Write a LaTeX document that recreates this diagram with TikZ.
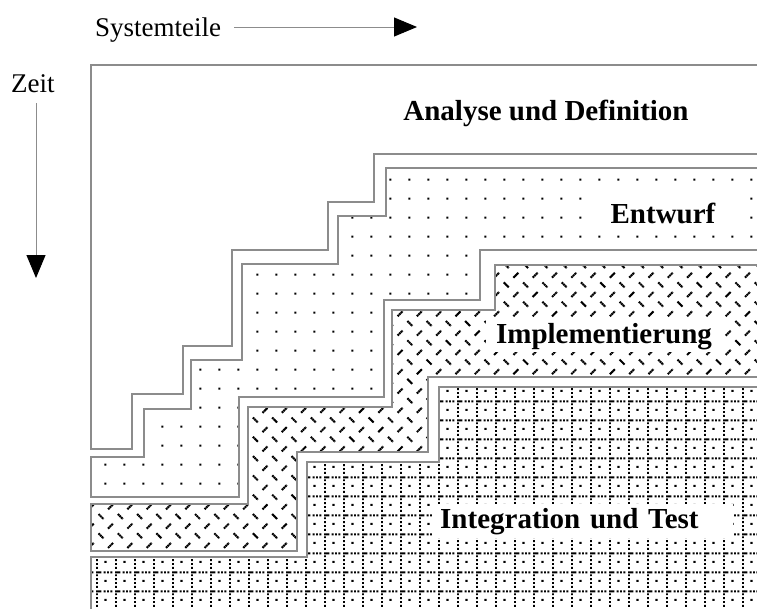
\documentclass[tikz,border=0pt]{standalone}
\usepackage{fontspec}
\setmainfont{Liberation Serif}
\usetikzlibrary{arrows.meta, patterns}
\definecolor{edgecolor}{RGB}{140,140,140}

% fill patterns of the phases
\pgfdeclarepatternformonly{entwurfdots}{\pgfpointorigin}{\pgfpoint{19.3pt}{19.3pt}}{\pgfpoint{19.3pt}{19.3pt}}{
  \pgfpathrectangle{\pgfpoint{8.7pt}{8.7pt}}{\pgfpoint{2.1pt}{2.1pt}}
  \pgfusepath{fill}
}
\pgfdeclarepatternformonly{implhatch}{\pgfpoint{-1pt}{-1pt}}{\pgfpoint{20.3pt}{20.3pt}}{\pgfpoint{19.3pt}{19.3pt}}{
  \pgfsetlinewidth{2.1pt}
  \pgfsetdash{{1.8pt}{0.5pt}}{0pt}
  \pgfpathmoveto{\pgfpoint{2pt}{16.8pt}}\pgfpathlineto{\pgfpoint{7pt}{11.8pt}}
  \pgfpathmoveto{\pgfpoint{11.6pt}{2.2pt}}\pgfpathlineto{\pgfpoint{16.6pt}{7.2pt}}
  \pgfusepath{stroke}
}
\pgfdeclarepatternformonly{testgrid}{\pgfpointorigin}{\pgfpoint{19.3pt}{19.3pt}}{\pgfpoint{19.3pt}{19.3pt}}{
  \pgfpathrectangle{\pgfpoint{0pt}{17.3pt}}{\pgfpoint{5.5pt}{2pt}}
  \pgfpathrectangle{\pgfpoint{8pt}{17.3pt}}{\pgfpoint{1.9pt}{2pt}}
  \pgfpathrectangle{\pgfpoint{11.5pt}{17.3pt}}{\pgfpoint{1.9pt}{2pt}}
  \pgfpathrectangle{\pgfpoint{15pt}{17.3pt}}{\pgfpoint{1.9pt}{2pt}}
  \pgfpathrectangle{\pgfpoint{0pt}{2.3pt}}{\pgfpoint{2pt}{1.9pt}}
  \pgfpathrectangle{\pgfpoint{0pt}{6.3pt}}{\pgfpoint{2pt}{1.9pt}}
  \pgfpathrectangle{\pgfpoint{0pt}{10.3pt}}{\pgfpoint{2pt}{1.9pt}}
  \pgfpathrectangle{\pgfpoint{0pt}{14.3pt}}{\pgfpoint{2pt}{1.9pt}}
  \pgfpathrectangle{\pgfpoint{8.8pt}{8.3pt}}{\pgfpoint{2.1pt}{2.1pt}}
  \pgfusepath{fill}
}

\begin{document}
\begin{tikzpicture}[x=1pt, y=-1pt,
    phasearea/.style={draw=edgecolor, line width=1.2pt},
    axislabel/.style={font=\fontsize{27}{32}\selectfont, inner sep=0pt},
    phaselabel/.style={font=\fontsize{29}{34}\selectfont\bfseries, fill=white},
    axisarrow/.style={draw=edgecolor, line width=1pt, -{Triangle[length=23pt, width=19pt, color=black]}}]
    \useasboundingbox (0,0) rectangle (757,608);
    \clip (0,0) rectangle (757,608);

    % axes
    \node[axislabel, anchor=base west] (sys) at (95,36) {Systemteile};
    \coordinate (sysend) at (417,27);
    \draw[axisarrow] ([xshift=13pt]sys.east |- sysend) -- (sysend);
    \node[axislabel, anchor=base west] (zeit) at (11,92) {Zeit};
    \coordinate (zeitend) at (36,278);
    \draw[axisarrow] ([yshift=-11pt]zeitend |- zeit.south) -- (zeitend);

    % phases
    \draw[phasearea] (770,65) -- (91,65) -- (91,449) -- (132,449) -- (132,394) -- (183,394) -- (183,346)
        -- (232,346) -- (232,250) -- (328,250) -- (328,202) -- (374,202) -- (374,154) -- (770,154);
    \draw[phasearea, pattern=entwurfdots] (770,168) -- (386,168) -- (386,216) -- (338,216) -- (338,264)
        -- (242,264) -- (242,360) -- (191,360) -- (191,409) -- (144,409) -- (144,457) -- (91,457)
        -- (91,497) -- (239,497) -- (239,397) -- (384,397) -- (384,300) -- (480,300) -- (480,250)
        -- (770,250) -- cycle;
    \draw[phasearea, pattern=implhatch] (770,265) -- (495,265) -- (495,310) -- (392,310) -- (392,407)
        -- (248,407) -- (248,504) -- (91,504) -- (91,551) -- (297,551) -- (297,452) -- (428,452)
        -- (428,377) -- (770,377) -- cycle;
    \draw[phasearea, pattern=testgrid] (770,387) -- (439,387) -- (439,462) -- (307,462) -- (307,557)
        -- (91,557) -- (91,620) -- (770,620) -- cycle;

    % labels
    \node[phaselabel, fill=none, anchor=base] (analyse) at (546,120) {Analyse und Definition};
    \node[phaselabel, anchor=base, inner xsep=24pt, inner ysep=7pt] (entwurf) at (663,223) {Entwurf};
    \node[phaselabel, anchor=base, inner xsep=10pt, inner ysep=3pt] (impl) at (604,343) {Implementierung};
    \node[phaselabel, anchor=base west, text width=286pt, inner xsep=7pt, inner ysep=4pt] (test) at (433,528) {Integration und Test};
\end{tikzpicture}
\end{document}
